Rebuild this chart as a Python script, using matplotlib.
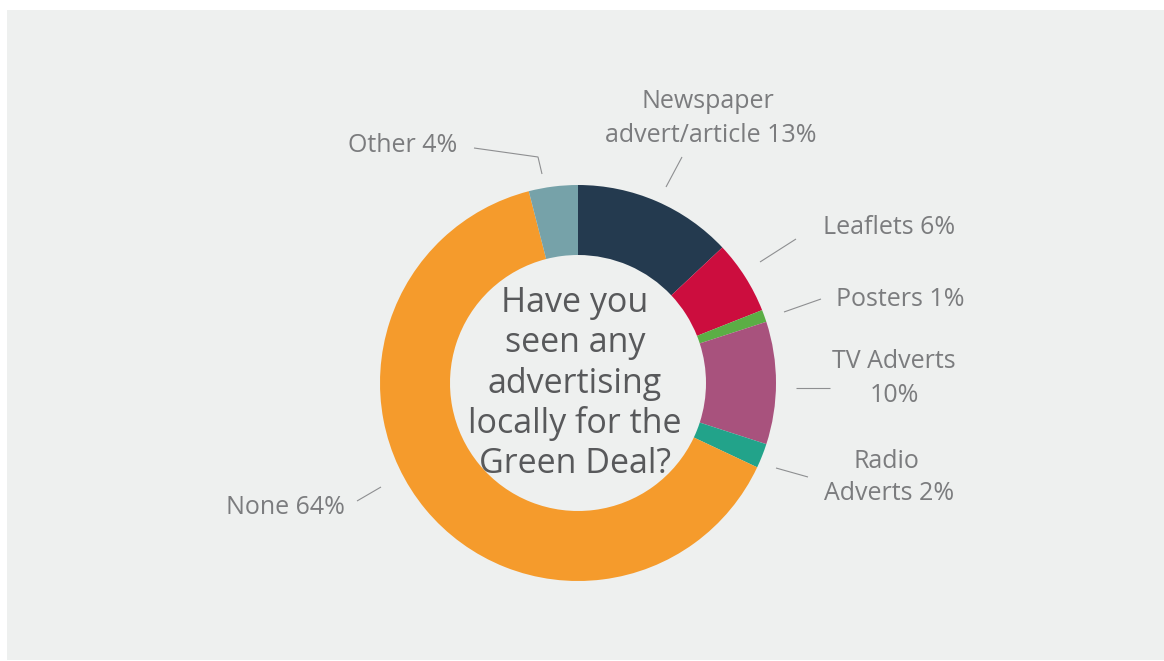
import matplotlib
matplotlib.use("Agg")
import matplotlib.pyplot as plt
from matplotlib.patches import Rectangle

# Survey answers: "Have you seen any advertising locally for the Green Deal?"
categories = ["Newspaper\nadvert/article", "Leaflets", "Posters", "TV Adverts",
              "Radio\nAdverts", "None", "Other"]
values = [13, 6, 1, 10, 2, 64, 4]
colors = ["#243A4F", "#CC0D3E", "#5BAE45", "#A8527D", "#22A38A", "#F59B2C", "#76A2A9"]

W, H = 1164, 661
BG = "#EEF0EF"
LABEL_COLOR = "#7B7C7E"
CENTER_COLOR = "#58595B"
FONT = "Open Sans"

fig = plt.figure(figsize=(W / 100, H / 100), dpi=100)
fig.patch.set_facecolor("white")
fig.add_artist(Rectangle((7 / W, 1 / H), (W - 7) / W, (H - 11) / H,
                         transform=fig.transFigure, facecolor=BG,
                         edgecolor="none", zorder=-10))

# Donut: centre (578, 383) px, outer radius 198 px
cx, cy, R = 578, 383, 198
ax = fig.add_axes([(cx - R) / W, (H - cy - R) / H, 2 * R / W, 2 * R / H])
ax.set_facecolor("none")
ax.pie(values, colors=colors, startangle=90, counterclock=False, radius=1.0,
       wedgeprops=dict(width=70 / 198, linewidth=0))
ax.set_xlim(-1, 1)
ax.set_ylim(-1, 1)
ax.set_aspect("equal")
ax.axis("off")

# Overlay in pixel coordinates for labels and leader lines
ov = fig.add_axes([0, 0, 1, 1])
ov.set_xlim(0, W)
ov.set_ylim(H, 0)
ov.axis("off")
ov.patch.set_alpha(0)

lab_kw = dict(color=LABEL_COLOR, fontsize=18, family=FONT, va="center")

def label_text(cat, val):
    return f"{cat} {val}%"

# Newspaper
ov.text(708, 102, "Newspaper", ha="center", **lab_kw)
ov.text(711, 135, f"advert/article {values[0]}%", ha="center", **lab_kw)
# Leaflets, Posters
ov.text(823, 227, label_text(categories[1], values[1]), ha="left", **lab_kw)
ov.text(836, 299, label_text(categories[2], values[2]), ha="left", **lab_kw)
# TV Adverts
ov.text(894, 362, categories[3], ha="center", **lab_kw)
ov.text(894, 396, f"{values[3]}%", ha="center", **lab_kw)
# Radio Adverts
ov.text(886, 461, "Radio", ha="center", **lab_kw)
ov.text(889, 494, f"Adverts {values[4]}%", ha="center", **lab_kw)
# None, Other
ov.text(345, 507, label_text(categories[5], values[5]), ha="right", **lab_kw)
ov.text(457, 146, label_text(categories[6], values[6]), ha="right", **lab_kw)

# Leader lines
line_kw = dict(color="#8E8F91", linewidth=0.8, solid_capstyle="butt")
leaders = [
    ([682, 666], [157, 187]),
    ([474, 538, 542], [148, 157, 174]),
    ([796, 760], [239, 262]),
    ([821, 784], [299, 312]),
    ([796, 830], [388, 388]),
    ([776, 808], [468, 477]),
    ([357, 381], [501, 487]),
]
for xs, ys in leaders:
    ov.plot(xs, ys, **line_kw)

# Question in the hole
question = ["Have you", "seen any", "advertising", "locally for the", "Green Deal?"]
for i, line in enumerate(question):
    ov.text(575, 312 + 40.3 * i, line, ha="center", va="baseline",
            color=CENTER_COLOR, fontsize=24.5, family=FONT)

fig.savefig("out.png", dpi=100, facecolor=fig.get_facecolor())
